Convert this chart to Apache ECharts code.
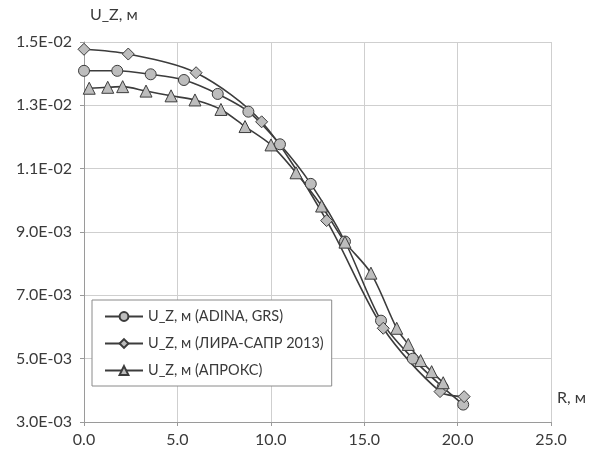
<!DOCTYPE html>
<html>
<head>
<meta charset="utf-8">
<script src="https://cdn.jsdelivr.net/npm/echarts@6/dist/echarts.min.js"></script>
<style>
html,body{margin:0;padding:0;background:#fff;}
#chart{width:594px;height:467px;}
</style>
</head>
<body>
<div id="chart"></div>
<script>
// ---- data ----
var seriesNames = ['U_Z, м (ADINA, GRS)', 'U_Z, м (ЛИРА-САПР 2013)', 'U_Z, м (АПРОКС)'];
var rAdina  = [0, 1.78, 3.57, 5.35, 7.16, 8.80, 10.49, 12.14, 13.97, 15.9, 17.6, 19.2, 20.3];
var uzAdina = [0.01409, 0.01409, 0.01398, 0.01380, 0.01336, 0.01280, 0.01177, 0.01052, 0.00870, 0.00620, 0.00500, 0.00410, 0.00355];
var rLira   = [0, 2.37, 6.0, 9.51, 12.99, 16.02, 19.06, 20.35];
var uzLira  = [0.01477, 0.01462, 0.01403, 0.01248, 0.00936, 0.00596, 0.00396, 0.00380];
var rAprox  = [0.28, 1.27, 2.07, 3.32, 4.66, 5.94, 7.33, 8.62, 10.01, 11.35, 12.72, 13.97, 15.36, 16.74, 17.36, 18.02, 18.61, 19.23];
var uzAprox = [0.01354, 0.01357, 0.01359, 0.01345, 0.01330, 0.01317, 0.01287, 0.01233, 0.01175, 0.01087, 0.00982, 0.00868, 0.00770, 0.00596, 0.00545, 0.00494, 0.00459, 0.00424];
var xTicks = { min: 0, max: 25, interval: 5 };
var yTicks = { min: 0.003, max: 0.015, interval: 0.002 };
var xName = 'R, м';
var yName = 'U_Z, м';

function pairs(xs, ys) { return xs.map(function (x, i) { return [x, ys[i]]; }); }
function expFmt(v) {
  var s = v.toExponential(1).split('e');
  var e = parseInt(s[1], 10);
  var sign = e < 0 ? '-' : '+';
  var a = Math.abs(e);
  return s[0] + 'E' + sign + (a < 10 ? '0' + a : '' + a);
}

var FONT = 'Lato';
var TXT = '#3a3a3a';
var LINE = '#3c3c3c';
var FILL = '#bdbdbd';

function mkSeries(name, data, symbol, size) {
  return {
    name: name,
    type: 'line',
    data: data,
    smooth: 0.3,
    symbol: symbol,
    symbolSize: size,
    showAllSymbol: true,
    lineStyle: { color: LINE, width: 1.6 },
    itemStyle: { color: FILL, borderColor: LINE, borderWidth: 1 },
    emphasis: { disabled: true },
    animation: false
  };
}

var chart = echarts.init(document.getElementById('chart'), null, { renderer: 'canvas' });
chart.setOption({
  backgroundColor: '#ffffff',
  animation: false,
  textStyle: { fontFamily: FONT, color: TXT },
  grid: { left: 84, right: 43, top: 42, bottom: 45, containLabel: false },
  xAxis: {
    type: 'value',
    min: xTicks.min, max: xTicks.max, interval: xTicks.interval,
    name: xName,
    nameLocation: 'end',
    nameGap: 6,
    nameTextStyle: { fontFamily: FONT, fontSize: 16, color: TXT, verticalAlign: 'bottom', align: 'left', padding: [0, 0, 16, 0] },
    axisLine: { show: true, onZero: false, lineStyle: { color: '#9a9a9a', width: 1 } },
    axisTick: { show: true, length: 4, lineStyle: { color: '#9a9a9a' } },
    axisLabel: { fontFamily: FONT, fontSize: 16, color: TXT, margin: 10, formatter: function (v) { return v.toFixed(1); } },
    splitLine: { show: true, lineStyle: { color: '#cfcfcf', width: 1 } }
  },
  yAxis: {
    type: 'value',
    min: yTicks.min, max: yTicks.max, interval: yTicks.interval,
    name: yName,
    nameLocation: 'end',
    nameGap: 27,
    nameTextStyle: { fontFamily: FONT, fontSize: 16, color: TXT, align: 'left', verticalAlign: 'middle', padding: [0, 0, 0, 6] },
    axisLine: { show: true, onZero: false, lineStyle: { color: '#9a9a9a', width: 1 } },
    axisTick: { show: true, length: 4, lineStyle: { color: '#9a9a9a' } },
    axisLabel: { fontFamily: FONT, fontSize: 16, color: TXT, margin: 12, formatter: expFmt },
    splitLine: { show: true, lineStyle: { color: '#cfcfcf', width: 1 } }
  },
  legend: {
    orient: 'vertical',
    left: 92,
    top: 300,
    itemWidth: 38,
    itemHeight: 11,
    itemGap: 12,
    padding: [9, 8, 8, 12],
    backgroundColor: '#ffffff',
    borderColor: '#8a8a8a',
    borderWidth: 1,
    textStyle: { fontFamily: FONT, fontSize: 14.5, color: TXT },
    selectedMode: false,
    data: seriesNames
  },
  series: [
    mkSeries(seriesNames[0], pairs(rAdina, uzAdina), 'circle', 11),
    mkSeries(seriesNames[1], pairs(rLira, uzLira), 'diamond', 12),
    mkSeries(seriesNames[2], pairs(rAprox, uzAprox), 'triangle', 12)
  ]
});
</script>
</body>
</html>
